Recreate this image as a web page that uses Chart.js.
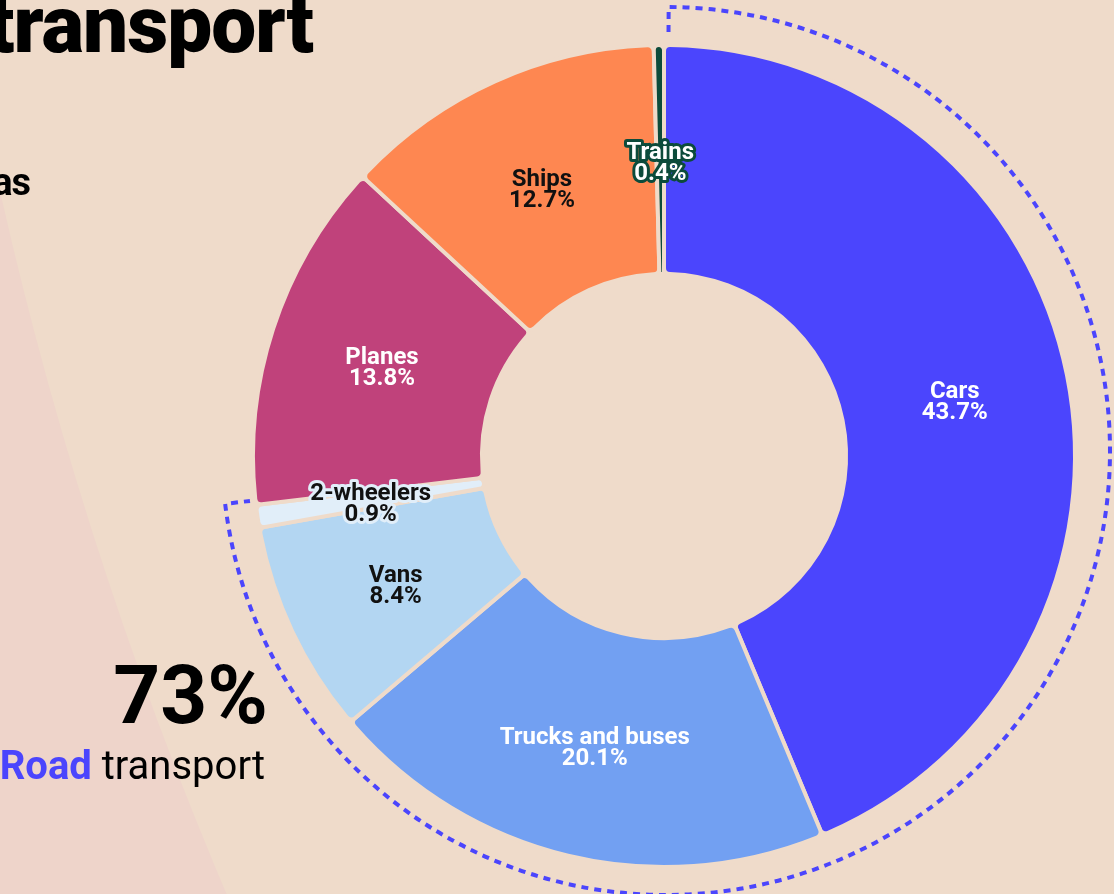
<!DOCTYPE html>
<html>
<head>
<meta charset="utf-8">
<title>Transport emissions</title>
<script src="https://cdn.jsdelivr.net/npm/chart.js@4/dist/chart.umd.min.js"></script>
<style>
  html, body { margin: 0; padding: 0; background: #efdbca; }
  #wrap { position: relative; width: 1114px; height: 894px; overflow: hidden; font-family: Roboto, "Noto Sans", sans-serif; }
  #chart { position: absolute; left: 0; top: 0; }
  .txt { position: absolute; white-space: nowrap; line-height: 1; color: #000; }
  #title { font-size: 80px; font-weight: 900; top: -15px; right: 801px; letter-spacing: -1px; }
  #sub { font-size: 38px; font-weight: 700; top: 163px; right: 1084px; letter-spacing: -1px; }
  #share { font-size: 82px; font-weight: 700; top: 654px; right: 846px; }
  #shareLabel { font-size: 40px; font-weight: 400; top: 746px; right: 849px; }
  #shareLabel b { color: #4b45fd; font-weight: 700; }
</style>
</head>
<body>
<div id="wrap">
  <canvas id="chart" width="1114" height="894"></canvas>
  <div class="txt" id="title">transport</div>
  <div class="txt" id="sub">as</div>
  <div class="txt" id="share"></div>
  <div class="txt" id="shareLabel"><b>Road</b> transport</div>
</div>
<script>
// Share of transport CO2 emissions by mode (%)
const categories = ['Cars', 'Trucks and buses', 'Vans', '2-wheelers', 'Planes', 'Ships', 'Trains'];
const shares = [43.7, 20.1, 8.4, 0.9, 13.8, 12.7, 0.4];
const roadCategories = ['Cars', 'Trucks and buses', 'Vans', '2-wheelers'];

// styling
const BG = '#efdbca';
const sliceColors = ['#4b45fd', '#72a0f2', '#b3d6f2', '#e1eef9', '#c0427b', '#fe8751', '#0c4b3b'];
const labelColors = ['#ffffff', '#ffffff', '#111111', '#111111', '#ffffff', '#111111', '#ffffff'];
const labelHalo = [null, null, null, '#e1eef9', null, null, '#0c4b3b'];

// headline number for road transport
const roadTotal = categories.reduce((s, c, i) => roadCategories.includes(c) ? s + shares[i] : s, 0);
document.getElementById('share').textContent = Math.round(roadTotal) + '%';

// faint backdrop curve on the left
const backdropPlugin = {
  id: 'backdrop',
  beforeDraw(chart) {
    const ctx = chart.ctx;
    ctx.save();
    ctx.fillStyle = BG;
    ctx.fillRect(0, 0, chart.width, chart.height);
    ctx.beginPath();
    ctx.rect(0, 0, chart.width, chart.height);
    ctx.arc(3992, -708, 4092, 0, Math.PI * 2, true);
    ctx.fillStyle = '#eed4ca';
    ctx.fill();
    ctx.restore();
  }
};

// slice labels: name + percentage at the middle of each ring segment
const sliceLabelPlugin = {
  id: 'sliceLabels',
  afterDatasetsDraw(chart) {
    const ctx = chart.ctx;
    const arcs = chart.getDatasetMeta(0).data;
    ctx.save();
    ctx.font = 'bold 24px Roboto, sans-serif';
    ctx.textAlign = 'center';
    ctx.textBaseline = 'alphabetic';
    ctx.lineJoin = 'round';
    arcs.forEach((arc, i) => {
      const mid = (arc.startAngle + arc.endAngle) / 2;
      const r = (arc.innerRadius + arc.outerRadius) / 2;
      const x = arc.x + Math.cos(mid) * r;
      const y = arc.y + Math.sin(mid) * r;
      const lines = [categories[i], shares[i].toFixed(1) + '%'];
      lines.forEach((t, k) => {
        const ly = y + k * 21;
        if (labelHalo[i]) {
          ctx.strokeStyle = labelHalo[i];
          ctx.lineWidth = 6;
          ctx.strokeText(t, x, ly);
        }
        ctx.fillStyle = labelColors[i];
        ctx.fillText(t, x, ly);
      });
    });
    ctx.restore();
  }
};

// dotted bracket around the road segments
const roadBracketPlugin = {
  id: 'roadBracket',
  afterDatasetsDraw(chart) {
    const arcs = chart.getDatasetMeta(0).data;
    const idx = roadCategories.map(c => categories.indexOf(c));
    const first = arcs[Math.min(...idx)];
    const last = arcs[Math.max(...idx)];
    const cx = first.x + 2;
    const cy = first.y - 5;
    const r = first.outerRadius + 33;
    const a0 = first.startAngle + 0.006;
    const a1 = last.endAngle;
    const tick = 25;
    const ctx = chart.ctx;
    ctx.save();
    ctx.strokeStyle = '#4b45fd';
    ctx.lineWidth = 4;
    ctx.setLineDash([7, 6]);
    ctx.beginPath();
    ctx.moveTo(cx + Math.cos(a0) * (r - tick), cy + Math.sin(a0) * (r - tick));
    ctx.lineTo(cx + Math.cos(a0) * r, cy + Math.sin(a0) * r);
    ctx.arc(cx, cy, r, a0, a1, false);
    ctx.lineTo(cx + Math.cos(a1) * (r - tick), cy + Math.sin(a1) * (r - tick));
    ctx.stroke();
    ctx.restore();
  }
};

new Chart(document.getElementById('chart'), {
  type: 'doughnut',
  data: {
    labels: categories,
    datasets: [{
      data: shares,
      backgroundColor: sliceColors,
      borderColor: BG,
      borderWidth: 4,
      borderRadius: 6
    }]
  },
  options: {
    responsive: false,
    animation: false,
    radius: 411,
    cutout: '44.3%',
    rotation: 0,
    layout: { padding: { left: 254, right: 40, top: 45, bottom: 27 } },
    plugins: {
      legend: { display: false },
      tooltip: { enabled: false }
    }
  },
  plugins: [backdropPlugin, roadBracketPlugin, sliceLabelPlugin]
});
</script>
</body>
</html>
